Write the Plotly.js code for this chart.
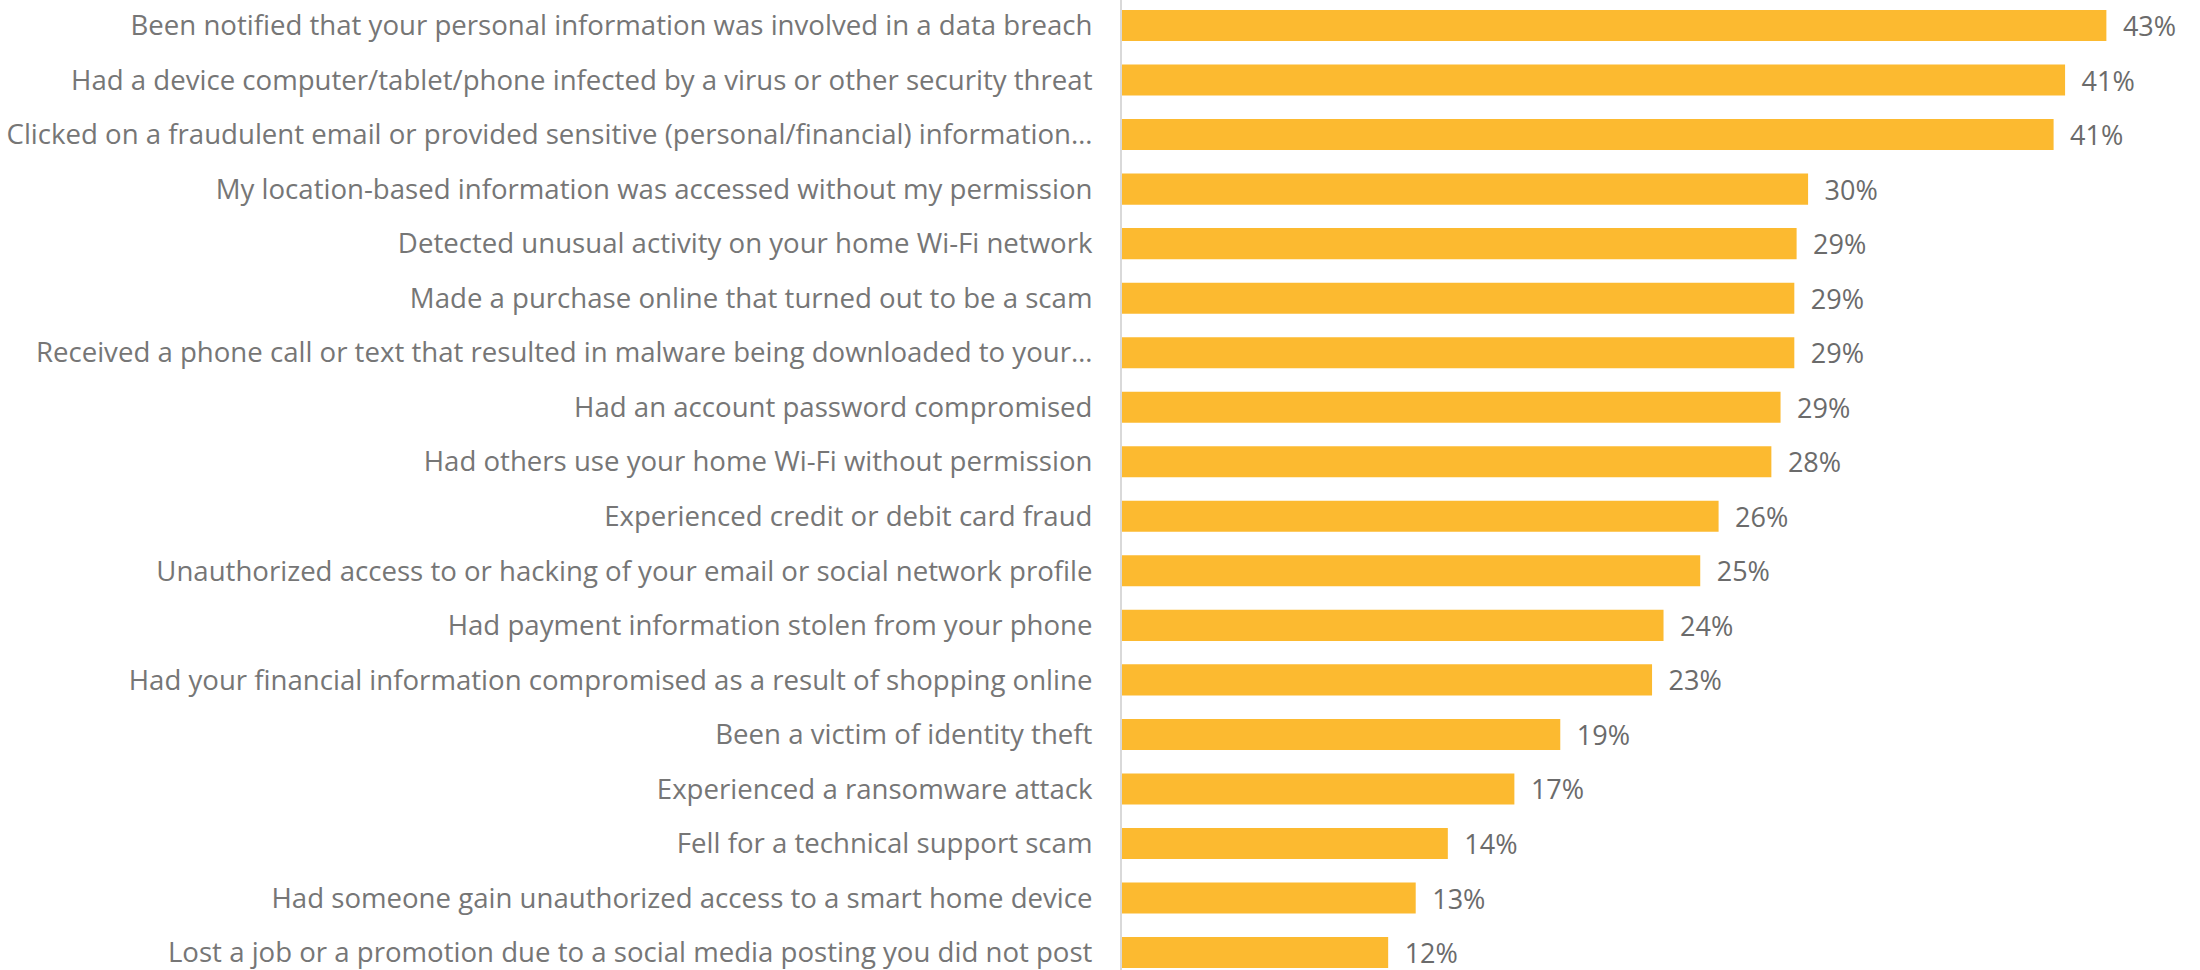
<!DOCTYPE html>
<html>
<head>
<meta charset="utf-8">
<script src="https://cdn.plot.ly/plotly-3.0.1.min.js"></script>
<style>html,body{margin:0;padding:0;background:#fff;}#chart{width:2200px;height:970px;}</style>
</head>
<body>
<div id="chart"></div>
<script>
const categories = [
  "Been notified that your personal information was involved in a data breach",
  "Had a device computer/tablet/phone infected by a virus or other security threat",
  "Clicked on a fraudulent email or provided sensitive (personal/financial) information…",
  "My location-based information was accessed without my permission",
  "Detected unusual activity on your home Wi-Fi network",
  "Made a purchase online that turned out to be a scam",
  "Received a phone call or text that resulted in malware being downloaded to your…",
  "Had an account password compromised",
  "Had others use your home Wi-Fi without permission",
  "Experienced credit or debit card fraud",
  "Unauthorized access to or hacking of your email or social network profile",
  "Had payment information stolen from your phone",
  "Had your financial information compromised as a result of shopping online",
  "Been a victim of identity theft",
  "Experienced a ransomware attack",
  "Fell for a technical support scam",
  "Had someone gain unauthorized access to a smart home device",
  "Lost a job or a promotion due to a social media posting you did not post"
];
const values = [42.9, 41.1, 40.6, 29.9, 29.4, 29.3, 29.3, 28.7, 28.3, 26.0, 25.2, 23.6, 23.1, 19.1, 17.1, 14.2, 12.8, 11.6];

const trace = {
  type: 'bar',
  orientation: 'h',
  y: categories,
  x: values,
  marker: {color: '#FCBA30'},
  texttemplate: '\u2002%{x:.0f}%',
  textposition: 'outside',
  constraintext: 'none',
  cliponaxis: false,
  textfont: {family: 'Open Sans', size: 27, color: '#6b6b6b'},
  hoverinfo: 'skip'
};

const layout = {
  width: 2200,
  height: 970,
  margin: {l: 1122, r: 0, t: 0, b: 0, pad: 0},
  paper_bgcolor: '#ffffff',
  plot_bgcolor: '#ffffff',
  showlegend: false,
  bargap: 0.43,
  font: {family: 'Open Sans', color: '#767676'},
  xaxis: {
    range: [0, 46.98],
    showgrid: false,
    zeroline: false,
    showticklabels: false,
    showline: false,
    fixedrange: true
  },
  yaxis: {
    type: 'category',
    range: [17.32, -0.468],
    showgrid: false,
    zeroline: false,
    showline: true,
    linecolor: '#d9d9d9',
    linewidth: 2,
    ticks: '',
    ticklabelstandoff: 22,
    tickfont: {family: 'Open Sans', size: 27.6, color: '#767676'},
    automargin: false,
    fixedrange: true
  }
};

Plotly.newPlot('chart', [trace], layout, {displayModeBar: false, staticPlot: true});
</script>
</body>
</html>
